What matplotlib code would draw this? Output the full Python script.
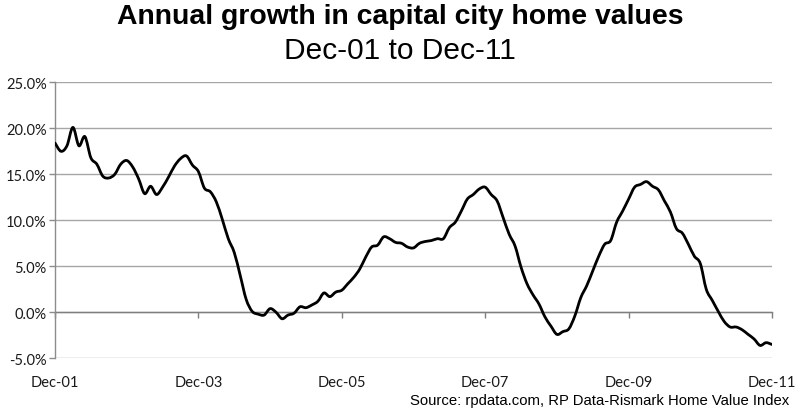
import numpy as np
import matplotlib
matplotlib.use("Agg")
import matplotlib.pyplot as plt
from matplotlib.ticker import FuncFormatter
from matplotlib.path import Path
from matplotlib.patches import PathPatch

# ---- data (annual growth %, monthly Dec-01 .. Dec-11) ----
growth = [
    18.4, 17.5, 18.1, 20.1, 18.1, 19.1, 16.8, 16.1, 14.8, 14.6, 15.0, 16.1,
    16.5, 15.8, 14.5, 12.9, 13.7, 12.8, 13.6, 14.7, 15.9, 16.7, 17.0, 16.0,
    15.3, 13.5, 13.1, 12.0, 10.1, 8.0, 6.5, 4.0, 1.4, 0.1, -0.2, -0.3,
    0.4, 0.0, -0.7, -0.3, -0.1, 0.6, 0.5, 0.8, 1.2, 2.1, 1.7, 2.2,
    2.4, 3.1, 3.8, 4.7, 6.0, 7.1, 7.3, 8.2, 8.0, 7.6, 7.5, 7.1,
    7.0, 7.5, 7.7, 7.8, 8.0, 8.0, 9.2, 9.8, 11.0, 12.3, 12.8, 13.4,
    13.6, 12.8, 12.1, 10.3, 8.5, 7.2, 4.9, 3.1, 1.9, 0.9, -0.5, -1.5,
    -2.4, -2.1, -1.8, -0.4, 1.6, 2.9, 4.5, 6.1, 7.4, 7.8, 9.8, 11.0,
    12.3, 13.6, 13.9, 14.2, 13.7, 13.3, 12.1, 10.9, 9.1, 8.6, 7.4, 6.1,
    5.3, 2.5, 1.3, 0.1, -1.0, -1.6, -1.6, -1.9, -2.4, -2.9, -3.6, -3.3,
    -3.5,
]
tick_labels = ["Dec-01", "Dec-03", "Dec-05", "Dec-07", "Dec-09", "Dec-11"]
y_ticks = [-5, 0, 5, 10, 15, 20, 25]
title = "Annual growth in capital city home values"
subtitle = "Dec-01 to Dec-11"
source = "Source: rpdata.com, RP Data-Rismark Home Value Index"

fig = plt.figure(figsize=(8.0, 4.14), dpi=100)
ax = fig.add_axes([55 / 800, 1 - 359.3 / 414, (772 - 55) / 800, (359.3 - 83.3) / 414])

# smoothed line through the data points (Bezier, like a spreadsheet "smoothed line")
x = np.arange(len(growth), dtype=float)
y = np.asarray(growth, dtype=float)
pts = np.column_stack([x, y])
ext = np.vstack([pts[0], pts, pts[-1]])
verts = [tuple(pts[0])]
codes = [Path.MOVETO]
for i in range(len(pts) - 1):
    p0, p1, p2, p3 = ext[i], ext[i + 1], ext[i + 2], ext[i + 3]
    c1 = p1 + (p2 - p0) / 6.0
    c2 = p2 - (p3 - p1) / 6.0
    verts += [tuple(c1), tuple(c2), tuple(p2)]
    codes += [Path.CURVE4] * 3
ax.add_patch(PathPatch(Path(verts, codes), facecolor="none", edgecolor="black",
                       lw=2.0, joinstyle="round", capstyle="round", zorder=3))

ax.set_xlim(0, len(growth) - 1)
ax.set_ylim(-5, 25)
ax.set_yticks(y_ticks)
ax.yaxis.set_major_formatter(FuncFormatter(lambda v, p: f"{v:.1f}%"))
ax.yaxis.grid(True, color="#a6a6a6", lw=1.0)
ax.set_axisbelow(True)

tick_pos = np.arange(0, len(growth), 24)
ax.set_xticks(tick_pos)
ax.set_xticklabels(tick_labels)

for s in ["top", "right"]:
    ax.spines[s].set_visible(False)
ax.spines["left"].set_color("#8c8c8c")
ax.spines["left"].set_linewidth(1.0)
ax.spines["bottom"].set_position(("data", 0))
ax.spines["bottom"].set_color("#7f7f7f")
ax.spines["bottom"].set_linewidth(1.0)
ax.spines["bottom"].set_zorder(2)

ax.tick_params(axis="x", direction="out", length=4, width=1, color="#7f7f7f",
               pad=41, labelsize=10.5, labelcolor="#1a1a1a")
ax.tick_params(axis="y", direction="out", length=4, width=1, color="#8c8c8c",
               pad=2, labelsize=10.5, labelcolor="#1a1a1a")
for lab in ax.get_xticklabels() + ax.get_yticklabels():
    lab.set_fontfamily("Lato")

fig.text(0.5, 1 - 17 / 414, title, ha="center", va="center",
         fontsize=20.4, fontweight="bold", family="Liberation Sans")
fig.text(0.5, 1 - 51 / 414, subtitle, ha="center", va="center",
         fontsize=21.5, family="Liberation Sans")
fig.text(789 / 800, 1 - 401 / 414, source, ha="right", va="center",
         fontsize=10.7, family="Liberation Sans")

fig.savefig("out.png", dpi=100)
